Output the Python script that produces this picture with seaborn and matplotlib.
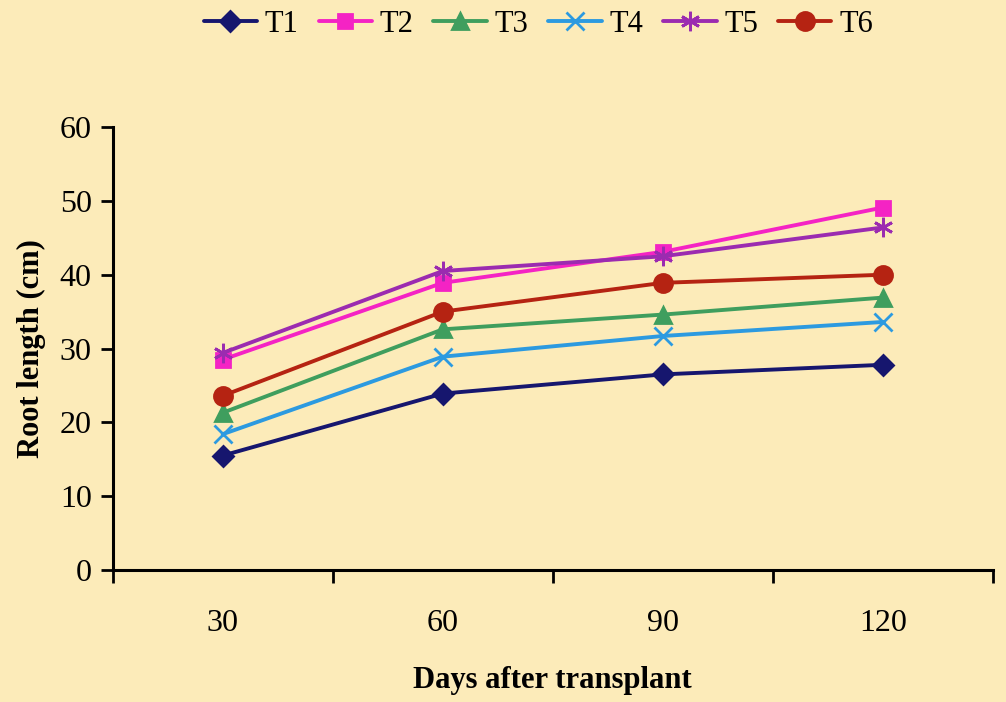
import matplotlib
matplotlib.use("Agg")
import matplotlib.pyplot as plt
import pandas as pd
import seaborn as sns

days = ["30", "60", "90", "120"]
treatments = ["T1", "T2", "T3", "T4", "T5", "T6"]
t1 = [15.5, 23.9, 26.5, 27.8]
t2 = [28.5, 38.9, 43.1, 49.1]
t3 = [21.3, 32.6, 34.6, 36.9]
t4 = [18.4, 28.9, 31.7, 33.6]
t5 = [29.4, 40.5, 42.5, 46.4]
t6 = [23.6, 35.0, 38.9, 40.0]
series = dict(zip(treatments, [t1, t2, t3, t4, t5, t6]))

rows = []
for name, vals in series.items():
    for i, (d, v) in enumerate(zip(days, vals)):
        rows.append({"pos": i, "Days": d, "Treatment": name, "Root length": v})
df = pd.DataFrame(rows)

bg = "#fcebb9"
palette = {"T1": "#16166e", "T2": "#f423c4", "T3": "#3f9e5e",
           "T4": "#2c9ae0", "T5": "#9b2bb0", "T6": "#b52312"}
markers = {"T1": "D", "T2": "s", "T3": "^", "T4": "x", "T5": (6, 2, 0), "T6": "o"}
msizes = {"T1": 10, "T2": 10, "T3": 11, "T4": 13, "T5": 14, "T6": 13}

sns.set_theme(style="ticks")
plt.rcParams["font.family"] = ["Liberation Serif", "DejaVu Serif"]
plt.rcParams["text.color"] = "black"
plt.rcParams["axes.labelcolor"] = "black"
plt.rcParams["xtick.color"] = "black"
plt.rcParams["ytick.color"] = "black"

fig = plt.figure(figsize=(10.06, 7.02), dpi=100, facecolor=bg)
ax = fig.add_axes([0.112, 0.188, 0.875, 0.631])
ax.set_facecolor(bg)

for name in treatments:
    sub = df[df["Treatment"] == name]
    sns.lineplot(data=sub, x="pos", y="Root length", color=palette[name],
                 marker=markers[name], markersize=msizes[name], markeredgewidth=2.0,
                 markeredgecolor=palette[name], linewidth=2.8, sort=False, ax=ax,
                 label=name, legend=False)

ax.set_xlim(-0.5, 3.5)
ax.set_ylim(0, 60)
ax.set_yticks(range(0, 61, 10))
ax.set_xticks([-0.5, 0.5, 1.5, 2.5, 3.5])
ax.set_xticklabels([])
ax.set_xticks(range(len(days)), minor=True)
ax.set_xticklabels(days, minor=True)
ax.tick_params(axis="x", which="minor", length=0, pad=28, labelsize=23)
ax.tick_params(axis="x", which="major", length=9, width=2, direction="out")
ax.tick_params(axis="y", length=9, width=2, direction="out", labelsize=23, pad=6)

for side in ("top", "right"):
    ax.spines[side].set_visible(False)
for side in ("left", "bottom"):
    ax.spines[side].set_linewidth(2.2)
    ax.spines[side].set_color("black")

ax.set_xlabel("Days after transplant", fontsize=22, fontweight="bold", labelpad=20)
ax.set_ylabel("Root length (cm)", fontsize=22, fontweight="bold", labelpad=10)

handles = ax.get_lines()[:len(treatments)]
fig.legend(handles, treatments, loc="upper center", bbox_to_anchor=(0.535, 1.025),
           ncol=6, frameon=False, fontsize=22, handlelength=1.75, handletextpad=0.25,
           columnspacing=0.65)

fig.savefig("out.png", dpi=100, facecolor=bg)
